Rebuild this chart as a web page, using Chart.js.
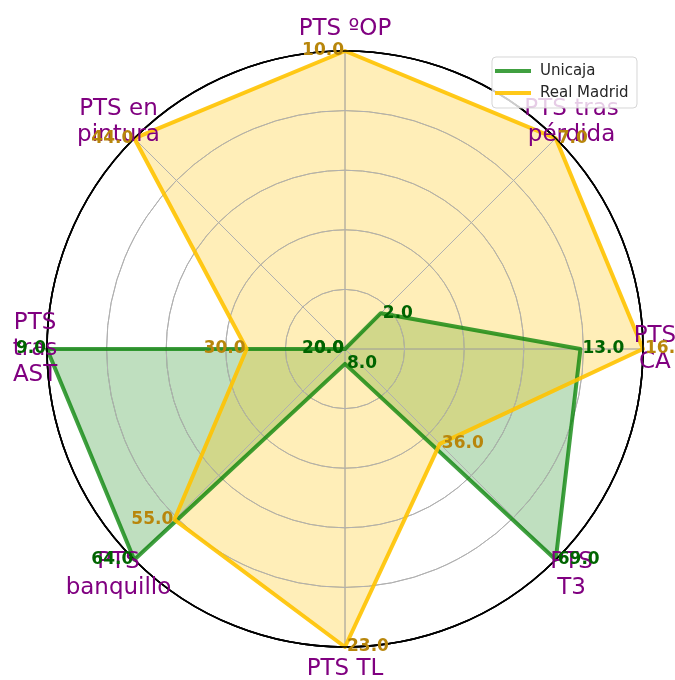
<!DOCTYPE html>
<html>
<head>
<meta charset="utf-8">
<script src="https://cdn.jsdelivr.net/npm/chart.js@4.4.0/dist/chart.umd.min.js"></script>
<style>
html, body { margin: 0; padding: 0; background: #fff; }
#wrap { width: 675px; height: 680px; }
</style>
</head>
<body>
<div id="wrap"><canvas id="myChart" width="675" height="680"></canvas></div>
<script>
// axes, clockwise from the top
var categories = [['PTS ºOP'], ['PTS tras', 'pérdida'], ['PTS', 'CA'], ['PTS', 'T3'], ['PTS TL'], ['PTS', 'banquillo'], ['PTS', 'tras', 'AST'], ['PTS en', 'pintura']];
var teams = ['Unicaja', 'Real Madrid'];

// raw values written next to each point
var unicajaValues = [0.0, 2.0, 13.0, 69.0, 8.0, 64.0, 9.0, 20.0];
var madridValues = [10.0, 7.0, 16.0, 36.0, 23.0, 55.0, 30.0, 44.0];

// where each point sits on the 0..1 radius
var unicajaScaled = [0, 0.17, 0.79, 1.0, 0.05, 1.0, 1.0, 0];
var madridScaled = [1.0, 1.0, 1.0, 0.45, 1.0, 0.81, 0.33, 1.0];

var rTicks = [0.2, 0.4, 0.6, 0.8, 1.0];

var lineColors = ['rgba(0,128,0,0.75)', 'rgba(255,195,0,0.9)'];
var fillColors = ['rgba(0,128,0,0.25)', 'rgba(255,195,0,0.28)'];
var textColors = ['#006400', '#b8860b'];

var labelDist = [1.075, 1.075, 1.04, 1.075, 1.075, 1.075, 1.04, 1.075];
var valueAlign = ['right', 'left', 'left', 'left', 'left', 'right', 'right', 'right'];

var textPlugin = {
	id: 'radarText',
	beforeDatasetsDraw: function(chart) {
		// fills are already down, grid goes over them like matplotlib
		chart.scales.r.drawGrid();
	},
	afterDatasetsDraw: function(chart) {
		var ctx = chart.ctx;
		var scale = chart.scales.r;
		var i, j;
		ctx.save();

		// outer ring on top of the lines
		ctx.strokeStyle = '#000000';
		ctx.lineWidth = 1.6;
		ctx.beginPath();
		ctx.arc(scale.xCenter, scale.yCenter, scale.drawingArea, 0, Math.PI * 2);
		ctx.stroke();

		// axis names
		ctx.fillStyle = 'purple';
		ctx.font = '23px "DejaVu Sans"';
		ctx.textAlign = 'center';
		ctx.textBaseline = 'middle';
		for (i = 0; i < categories.length; i++) {
			var p = scale.getPointPosition(i, scale.drawingArea * labelDist[i]);
			var lines = categories[i];
			for (j = 0; j < lines.length; j++) {
				ctx.fillText(lines[j], p.x, p.y + (j - (lines.length - 1) / 2) * 26);
			}
		}

		// values next to the points
		var all = [unicajaValues, madridValues];
		ctx.font = 'bold 17px "DejaVu Sans"';
		for (var d = 0; d < all.length; d++) {
			var meta = chart.getDatasetMeta(d);
			ctx.fillStyle = textColors[d];
			for (i = 0; i < all[d].length; i++) {
				var pt = meta.data[i];
				ctx.textAlign = valueAlign[i];
				var off = valueAlign[i] == 'right' ? -1 : 2;
				ctx.fillText(all[d][i].toFixed(1), pt.x + off, pt.y);
			}
		}
		ctx.restore();
	},
	afterDraw: function(chart) {
		// legend box, top right
		var ctx = chart.ctx;
		ctx.save();
		var x = 492, y = 57, w = 145, h = 51, rad = 4;
		ctx.beginPath();
		ctx.moveTo(x + rad, y);
		ctx.arcTo(x + w, y, x + w, y + h, rad);
		ctx.arcTo(x + w, y + h, x, y + h, rad);
		ctx.arcTo(x, y + h, x, y, rad);
		ctx.arcTo(x, y, x + w, y, rad);
		ctx.closePath();
		ctx.fillStyle = 'rgba(255,255,255,0.8)';
		ctx.fill();
		ctx.strokeStyle = 'rgba(204,204,204,0.8)';
		ctx.lineWidth = 1;
		ctx.stroke();

		ctx.font = '15px "DejaVu Sans"';
		ctx.textAlign = 'left';
		ctx.textBaseline = 'middle';
		for (var k = 0; k < teams.length; k++) {
			var ly = y + 14 + k * 22;
			ctx.strokeStyle = lineColors[k];
			ctx.lineWidth = 4;
			ctx.beginPath();
			ctx.moveTo(x + 3, ly);
			ctx.lineTo(x + 39, ly);
			ctx.stroke();
			ctx.fillStyle = '#262626';
			ctx.fillText(teams[k], x + 48, ly);
		}
		ctx.restore();
	}
};

var ctx = document.getElementById('myChart').getContext('2d');
var chart = new Chart(ctx, {
	type: 'radar',
	data: {
		labels: categories,
		datasets: [{
			label: teams[0],
			data: unicajaScaled,
			borderColor: lineColors[0],
			backgroundColor: fillColors[0],
			borderWidth: 4,
			borderJoinStyle: 'round',
			pointRadius: 0,
			fill: true,
			order: 1
		}, {
			label: teams[1],
			data: madridScaled,
			borderColor: lineColors[1],
			backgroundColor: fillColors[1],
			borderWidth: 4,
			borderJoinStyle: 'round',
			pointRadius: 0,
			fill: true,
			order: 0
		}]
	},
	options: {
		responsive: false,
		devicePixelRatio: 1,
		animation: false,
		layout: { padding: { left: 47, right: 32, top: 51, bottom: 33 } },
		plugins: {
			legend: { display: false },
			tooltip: { enabled: false },
			filler: { drawTime: 'beforeDatasetsDraw' }
		},
		scales: {
			r: {
				min: 0,
				max: 1,
				afterBuildTicks: function(scale) {
					scale.ticks = [{ value: 0 }].concat(rTicks.map(function(v) { return { value: v }; }));
				},
				ticks: { display: false },
				pointLabels: { display: false },
				angleLines: { color: '#b0b0b0', lineWidth: 1 },
				grid: {
					color: function(c) { return c.tick && c.tick.value == 1 ? '#000000' : '#b0b0b0'; },
					lineWidth: function(c) { return c.tick && c.tick.value == 1 ? 1.6 : 1; },
					circular: true
				}
			}
		}
	},
	plugins: [textPlugin]
});
</script>
</body>
</html>
